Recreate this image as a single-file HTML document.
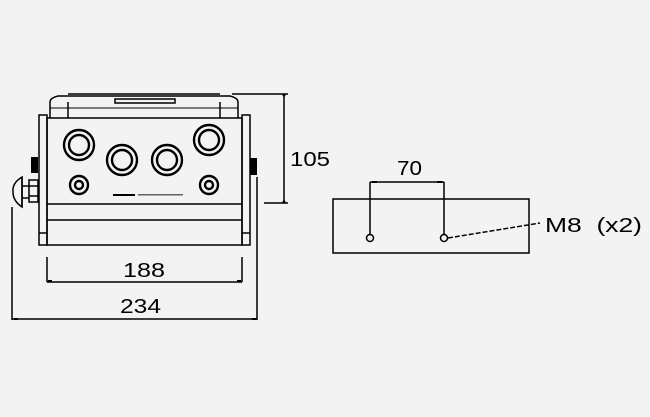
<!DOCTYPE html>
<html><head><style>html,body{margin:0;padding:0;background:#f3f3f3}svg{display:block}</style></head>
<body>
<svg width="650" height="417" viewBox="0 0 650 417" xmlns="http://www.w3.org/2000/svg" font-family="Liberation Sans, sans-serif">
<rect width="650" height="417" fill="#f3f3f3"/>
<g stroke="#000" stroke-width="1.5" fill="none">
<path d="M68 94 H220 M50 118 V102 Q50 98 58 96 H230 Q238 98 238 102 V118"/>
<line x1="68" y1="102" x2="68" y2="118"/><line x1="220" y1="102" x2="220" y2="118"/>
<line x1="50" y1="108" x2="238" y2="108" stroke-width="1"/>
<rect x="115" y="99" width="60" height="4"/>
<rect x="47" y="118" width="195" height="127"/>
<line x1="47" y1="204" x2="242" y2="204"/>
<line x1="47" y1="220" x2="242" y2="220"/>
<rect x="39" y="115" width="8" height="130"/>
<rect x="242" y="115" width="8" height="130"/>
<line x1="39" y1="233" x2="47" y2="233"/><line x1="242" y1="233" x2="250" y2="233"/>
<g stroke-width="2.4">
<circle cx="79" cy="145" r="15"/><circle cx="79" cy="145" r="10"/>
<circle cx="122" cy="160" r="15"/><circle cx="122" cy="160" r="10"/>
<circle cx="167" cy="160" r="15"/><circle cx="167" cy="160" r="10"/>
<circle cx="209" cy="140" r="15"/><circle cx="209" cy="140" r="10"/>
<circle cx="79" cy="185" r="9"/><circle cx="79" cy="185" r="4"/>
<circle cx="209" cy="185" r="9"/><circle cx="209" cy="185" r="4"/>
</g>
<rect x="29" y="180" width="9" height="22"/>
<line x1="29" y1="186" x2="38" y2="186"/><line x1="29" y1="196" x2="38" y2="196"/>
<path d="M22 177 Q12 183 13 192 Q13 201 22 207 Z"/>
<line x1="22" y1="177" x2="22" y2="207"/><line x1="22" y1="186" x2="29" y2="186"/><line x1="22" y1="198" x2="29" y2="198"/>
<line x1="232" y1="94" x2="288" y2="94"/>
<line x1="264" y1="203" x2="288" y2="203"/>
<line x1="284" y1="94" x2="284" y2="203"/>
<line x1="47" y1="257" x2="47" y2="282"/><line x1="242" y1="257" x2="242" y2="282"/>
<line x1="47" y1="282" x2="242" y2="282"/>
<line x1="12" y1="207" x2="12" y2="320"/><line x1="257" y1="177" x2="257" y2="320"/>
<line x1="12" y1="319" x2="257" y2="319"/>
<rect x="333" y="199" width="196" height="54"/>
<line x1="370" y1="182" x2="370" y2="234"/><line x1="444" y1="182" x2="444" y2="234"/>
<line x1="370" y1="182" x2="444" y2="182"/>
<circle cx="370" cy="238" r="3.5"/><circle cx="444" cy="238" r="3.5"/>
<path d="M448 238 L540 223" stroke-dasharray="5 2"/>
</g>
<g fill="#000">
<rect x="31" y="157" width="7" height="16"/>
<rect x="250" y="158" width="7" height="17"/>
<rect x="113" y="194" width="22" height="2"/>
<rect x="138" y="194" width="45" height="1.5" opacity="0.6"/>
<circle cx="284" cy="95" r="1.5"/><circle cx="284" cy="202" r="1.5"/>
<rect x="48" y="280" width="4" height="2"/><rect x="237" y="280" width="4" height="2"/>
<rect x="14" y="318" width="4" height="2"/><rect x="252" y="318" width="4" height="2"/>
<rect x="372" y="181" width="5" height="2"/><rect x="437" y="181" width="5" height="2"/>
</g>
<g font-size="20" fill="#000">
<text x="290" y="166" textLength="40" lengthAdjust="spacingAndGlyphs">105</text>
<text x="123" y="277" textLength="42" lengthAdjust="spacingAndGlyphs">188</text>
<text x="120" y="313" textLength="41" lengthAdjust="spacingAndGlyphs">234</text>
<text x="397" y="175" textLength="25" lengthAdjust="spacingAndGlyphs">70</text>
<text x="545" y="232" textLength="97" lengthAdjust="spacingAndGlyphs" xml:space="preserve">M8  (x2)</text>
</g>
</svg>
</body></html>
